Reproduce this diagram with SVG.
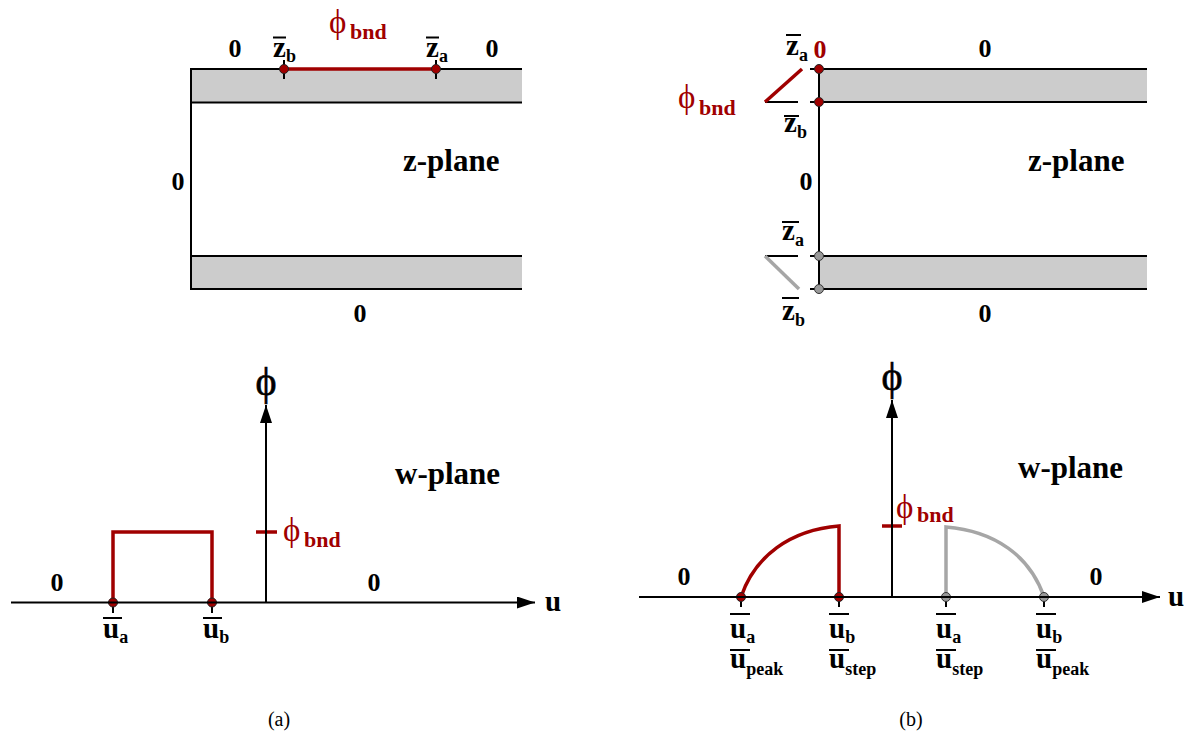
<svg xmlns="http://www.w3.org/2000/svg" width="1184" height="736" viewBox="0 0 1184 736">
<defs>
<style>
.ln{stroke:#000;stroke-width:2;fill:none}
.red{stroke:#a00000;stroke-width:3.5;fill:none}
.gry{stroke:#a6a6a6;stroke-width:3.5;fill:none}
.strip{fill:#cccccc;stroke:none}
.dr{fill:#a00000;stroke:#222;stroke-width:1}
.dg{fill:#999999;stroke:#333;stroke-width:1}
.ob{stroke:#000;stroke-width:2}
text{font-family:"Liberation Serif","Times New Roman",serif}
.b{font-weight:bold;fill:#000}
.z{font-size:26px;text-anchor:middle}
.pl{font-size:31px}
.lab{font-size:29px}
.sub{font-size:18px}
.phi{font-size:33px;font-weight:normal;fill:#a00000}
.bnd{font-size:22px;font-weight:bold;fill:#a00000}
.ax{font-size:40px;font-weight:normal;text-anchor:middle;fill:#000;stroke:#000;stroke-width:0.6}
.cap{font-size:20px;text-anchor:middle;fill:#000}
</style>
<marker id="arr" markerWidth="18" markerHeight="12" refX="18" refY="6" orient="auto" markerUnits="userSpaceOnUse">
<path d="M0,0 L18,6 L0,12 Z" fill="#000"/>
</marker>
</defs>

<!-- Panel (a) top: z-plane -->
<g id="a-zplane">
<rect class="strip" x="191" y="69" width="331" height="33.5"/>
<rect class="strip" x="191" y="256" width="331" height="33"/>
<path class="ln" d="M522,69 H191 V289 H522 M191,102.5 H522 M191,256 H522"/>
<line class="red" x1="284" y1="69" x2="436" y2="69"/>
<path class="ln" d="M284,60 V79 M436,60 V79"/>
<circle class="dr" cx="284" cy="69" r="4.5"/>
<circle class="dr" cx="436" cy="69" r="4.5"/>
<text class="b z" x="235" y="57">0</text>
<text class="b z" x="492" y="57">0</text>
<text class="b z" x="178" y="190">0</text>
<text class="b z" x="360" y="322">0</text>
<text class="b pl" x="403" y="171">z-plane</text>
<text class="b lab" x="273" y="57">z<tspan class="sub" dy="5">b</tspan></text>
<line class="ob" x1="273" y1="37.5" x2="286" y2="37.5"/>
<text class="b lab" x="426" y="57">z<tspan class="sub" dy="5">a</tspan></text>
<line class="ob" x1="426" y1="37.5" x2="439" y2="37.5"/>
<text class="phi" x="329" y="33">ϕ</text>
<text class="bnd" x="350" y="39">bnd</text>
</g>

<!-- Panel (b) top: z-plane -->
<g id="b-zplane">
<rect class="strip" x="819" y="69" width="328" height="33"/>
<rect class="strip" x="819" y="256" width="328" height="33"/>
<path class="ln" d="M1147,69 H819 V289 H1147 M819,102 H1147 M819,256 H1147"/>
<path class="ln" d="M810,69 H819 M810,102 H819 M765,102 H798 M810,256 H819 M810,289 H819 M765,256 H798"/>
<line class="red" x1="765" y1="102" x2="802" y2="69"/>
<line class="gry" x1="765" y1="256" x2="799" y2="289"/>
<circle class="dr" cx="819" cy="69" r="4.5"/>
<circle class="dr" cx="819" cy="102" r="4.5"/>
<circle class="dg" cx="819" cy="256" r="4.5"/>
<circle class="dg" cx="819" cy="289" r="4.5"/>
<text class="b lab" x="786" y="55">z<tspan class="sub" dy="6">a</tspan></text>
<line class="ob" x1="786" y1="35" x2="801" y2="35"/>
<text class="b z" x="820" y="58" style="fill:#a00000">0</text>
<text class="phi" x="678" y="108">ϕ</text>
<text class="bnd" x="699" y="115">bnd</text>
<text class="b lab" x="784" y="132">z<tspan class="sub" dy="6">b</tspan></text>
<line class="ob" x1="784" y1="116" x2="799" y2="116"/>
<text class="b z" x="985" y="57">0</text>
<text class="b pl" x="1028" y="171">z-plane</text>
<text class="b z" x="806" y="190">0</text>
<text class="b lab" x="782" y="240">z<tspan class="sub" dy="6">a</tspan></text>
<line class="ob" x1="782" y1="222" x2="799" y2="222"/>
<text class="b lab" x="782" y="320">z<tspan class="sub" dy="6">b</tspan></text>
<line class="ob" x1="782" y1="298" x2="799" y2="298"/>
<text class="b z" x="985" y="322">0</text>
</g>

<!-- Panel (a) bottom: w-plane -->
<g id="a-wplane">
<path class="red" d="M113,602.5 V532 H212 V602.5"/>
<line class="red" x1="256" y1="532" x2="277" y2="532"/>
<path class="ln" d="M113,602 V613 M212,602 V613"/>
<circle class="dr" cx="113" cy="602.5" r="4.5"/>
<circle class="dr" cx="212" cy="602.5" r="4.5"/>
<text class="ax" x="266" y="395">ϕ</text>
<text class="b z" x="57" y="591">0</text>
<text class="b z" x="374" y="591">0</text>
<text class="b pl" x="395" y="484">w-plane</text>
<text class="b lab" x="545" y="611">u</text>
<text class="phi" x="283" y="541">ϕ</text>
<text class="bnd" x="304" y="547">bnd</text>
<text class="b lab" x="103" y="638">u<tspan class="sub" dy="5">a</tspan></text>
<line class="ob" x1="103" y1="618" x2="122" y2="618"/>
<text class="b lab" x="203" y="638">u<tspan class="sub" dy="5">b</tspan></text>
<line class="ob" x1="203" y1="618" x2="222" y2="618"/>
</g>

<!-- Panel (b) bottom: w-plane -->
<g id="b-wplane">
<path class="red" d="M741,597 C755,556 790,530 839,526 V597"/>
<path class="gry" d="M946,597 V527 C995,531 1030,556 1044,597"/>
<line class="red" x1="882" y1="526" x2="902" y2="526"/>
<path class="ln" d="M741,597 V607 M839,597 V607 M946,597 V607 M1044,597 V607"/>
<circle class="dr" cx="741" cy="597" r="4.5"/>
<circle class="dr" cx="839" cy="597" r="4.5"/>
<circle class="dg" cx="946" cy="597" r="4.5"/>
<circle class="dg" cx="1044" cy="597" r="4.5"/>
<text class="ax" x="892" y="390">ϕ</text>
<text class="b z" x="684" y="585">0</text>
<text class="b z" x="1096" y="585">0</text>
<text class="b pl" x="1018" y="478">w-plane</text>
<text class="b lab" x="1168" y="606">u</text>
<text class="phi" x="896" y="518">ϕ</text>
<text class="bnd" x="917" y="522">bnd</text>
<text class="b lab" x="730" y="638">u<tspan class="sub" dy="5">a</tspan></text>
<line class="ob" x1="730" y1="614" x2="750" y2="614"/>
<text class="b lab" x="730" y="668">u<tspan class="sub" dy="7">peak</tspan></text>
<line class="ob" x1="730" y1="650" x2="750" y2="650"/>
<text class="b lab" x="829" y="638">u<tspan class="sub" dy="5">b</tspan></text>
<line class="ob" x1="829" y1="614" x2="849" y2="614"/>
<text class="b lab" x="829" y="668">u<tspan class="sub" dy="7">step</tspan></text>
<line class="ob" x1="829" y1="650" x2="849" y2="650"/>
<text class="b lab" x="936" y="638">u<tspan class="sub" dy="5">a</tspan></text>
<line class="ob" x1="936" y1="614" x2="956" y2="614"/>
<text class="b lab" x="936" y="668">u<tspan class="sub" dy="7">step</tspan></text>
<line class="ob" x1="936" y1="650" x2="956" y2="650"/>
<text class="b lab" x="1036" y="638">u<tspan class="sub" dy="5">b</tspan></text>
<line class="ob" x1="1036" y1="614" x2="1056" y2="614"/>
<text class="b lab" x="1036" y="668">u<tspan class="sub" dy="7">peak</tspan></text>
<line class="ob" x1="1036" y1="650" x2="1056" y2="650"/>
</g>

<!-- Axes (connectors) -->
<g id="connectors">
<line class="ln" x1="11" y1="602.5" x2="535" y2="602.5" marker-end="url(#arr)"/>
<line class="ln" x1="266" y1="602.5" x2="266" y2="405" marker-end="url(#arr)"/>
<line class="ln" x1="639" y1="597" x2="1160" y2="597" marker-end="url(#arr)"/>
<line class="ln" x1="892" y1="597" x2="892" y2="400" marker-end="url(#arr)"/>
</g>

<g id="captions">
<text class="cap" x="279" y="726">(a)</text>
<text class="cap" x="911" y="726">(b)</text>
</g>
</svg>
